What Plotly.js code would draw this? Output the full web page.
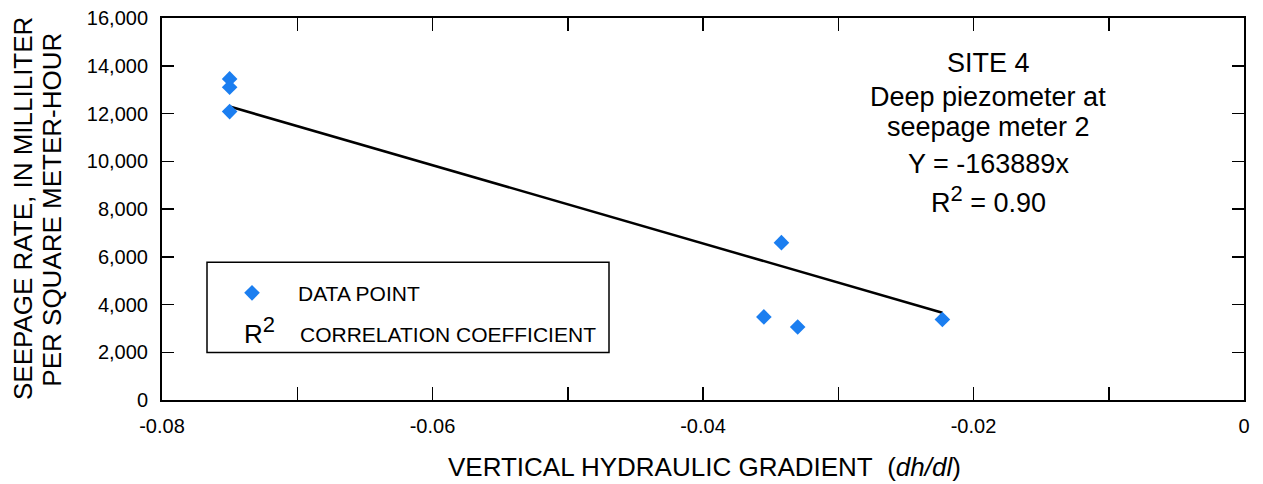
<!DOCTYPE html>
<html><head><meta charset="utf-8">
<script src="https://cdn.plot.ly/plotly-3.0.1.min.js"></script>
<style>html,body{margin:0;padding:0;background:#fff}#chart{width:1263px;height:484px}</style>
</head><body><div id="chart"></div>
<script>
// ---- data ----
const gradient = [-0.075, -0.075, -0.075, -0.0355, -0.0342, -0.0330, -0.0223];
const seepage  = [13450, 13100, 12080, 3480, 6590, 3060, 3370];
const slope = -163889;
const rSquared = '0.90';
const xTickVals = [-0.08, -0.06, -0.04, -0.02, 0];
const xTickText = ['-0.08', '-0.06', '-0.04', '-0.02', '0'];
const yTickVals = [0, 2000, 4000, 6000, 8000, 10000, 12000, 14000, 16000];
const yTickText = ['0', '2,000', '4,000', '6,000', '8,000', '10,000', '12,000', '14,000', '16,000'];
const SUP2 = '<sup><span style="font-size:22px">2</span></sup>';
const noteLines = ['SITE 4', 'Deep piezometer at', 'seepage meter 2', 'Y = ' + slope + 'x', 'R' + SUP2 + ' = ' + rSquared];

// regression line through data extent
const fitX = [Math.min(...gradient), Math.max(...gradient)];
const fitY = fitX.map(x => slope * x);

const FONT = 'Liberation Sans, Arial, Helvetica, sans-serif';
const BLUE = '#1b7ef0';

const traces = [
  {x: fitX, y: fitY, type: 'scatter', mode: 'lines', line: {color: '#000', width: 2.5}, showlegend: false, hoverinfo: 'skip'},
  {x: gradient, y: seepage, type: 'scatter', mode: 'markers', name: 'DATA POINT',
   marker: {symbol: 'diamond', size: 12, color: BLUE, line: {width: 0}}}
];

const P = (px) => (px - 162) / 1082;      // pixel x -> paper
const Q = (py) => (399.5 - py) / 381;     // pixel y -> paper

const noteY = [63.7, 97.5, 127.5, 164, 199.5];
const annotations = noteLines.map((t, i) => ({
  text: t, xref: 'paper', yref: 'paper', x: P(988), y: Q(noteY[i]),
  xanchor: 'center', yanchor: 'middle', showarrow: false,
  font: {family: FONT, size: 27, color: '#000'}
}));
annotations.push(
  {text: 'SEEPAGE RATE, IN MILLILITER', xref: 'paper', yref: 'paper', x: P(23), y: 0.5,
   textangle: -90, xanchor: 'center', yanchor: 'middle', showarrow: false,
   font: {family: FONT, size: 26, color: '#000'}},
  {text: 'PER SQUARE METER-HOUR', xref: 'paper', yref: 'paper', x: P(52.5), y: 0.497,
   textangle: -90, xanchor: 'center', yanchor: 'middle', showarrow: false,
   font: {family: FONT, size: 26, color: '#000'}},
  {text: 'VERTICAL HYDRAULIC GRADIENT\u00A0 (<i>dh/dl</i>)', xref: 'paper', yref: 'paper', x: P(704), y: Q(466),
   xanchor: 'center', yanchor: 'middle', showarrow: false,
   font: {family: FONT, size: 26, color: '#000'}},
  {text: 'R' + SUP2, xref: 'paper', yref: 'paper', x: P(242), y: Q(330),
   xanchor: 'left', yanchor: 'middle', showarrow: false,
   font: {family: FONT, size: 26, color: '#000'}},
  {text: 'CORRELATION COEFFICIENT', xref: 'paper', yref: 'paper', x: P(298), y: Q(334),
   xanchor: 'left', yanchor: 'middle', showarrow: false,
   font: {family: FONT, size: 21, color: '#000'}}
);

const axisCommon = {
  showline: true, linecolor: '#000', linewidth: 2, mirror: 'ticks',
  ticks: 'inside', tickcolor: '#000', tickwidth: 1.5,
  showgrid: false, zeroline: false, fixedrange: true,
  tickfont: {family: FONT, size: 20, color: '#000'}
};

const layout = {
  width: 1263, height: 484,
  margin: {l: 162, r: 19, t: 18, b: 84},
  paper_bgcolor: '#fff', plot_bgcolor: '#fff',
  font: {family: FONT, color: '#000'},
  xaxis: Object.assign({}, axisCommon, {
    range: [-0.08, 0], tickmode: 'array', tickvals: xTickVals, ticktext: xTickText,
    ticklen: 13, ticklabelstandoff: 7,
    minor: {dtick: 0.01, tick0: 0, ticks: 'inside', ticklen: 13, tickcolor: '#000', tickwidth: 1.5, showgrid: false}
  }),
  yaxis: Object.assign({}, axisCommon, {
    range: [0, 16000], tickmode: 'array', tickvals: yTickVals, ticktext: yTickText,
    ticklen: 12, ticklabelstandoff: 8
  }),
  showlegend: true,
  legend: {x: P(206), y: Q(293), xanchor: 'left', yanchor: 'middle', itemwidth: 82,
           bgcolor: 'rgba(0,0,0,0)', borderwidth: 0,
           font: {family: FONT, size: 21, color: '#000'}},
  shapes: [{type: 'rect', xref: 'paper', yref: 'paper', x0: P(207), x1: P(609), y0: Q(352), y1: Q(262),
            line: {color: '#000', width: 1.5}, fillcolor: 'rgba(0,0,0,0)'}],
  annotations: annotations
};

Plotly.newPlot('chart', traces, layout, {displayModeBar: false, staticPlot: true});
</script>
</body></html>
